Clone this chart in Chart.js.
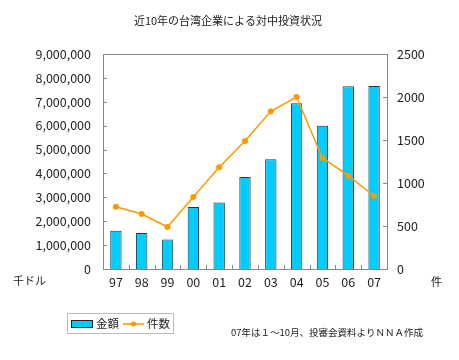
<!DOCTYPE html>
<html>
<head>
<meta charset="utf-8">
<script src="https://cdn.jsdelivr.net/npm/chart.js@4"></script>
<style>
  html, body { margin: 0; padding: 0; background: #fff; }
  #wrap { width: 459px; height: 360px; position: relative; }
</style>
</head>
<body>
<div id="wrap"><canvas id="grafica" width="459" height="360"></canvas></div>
<script>
// datos
var years = ['97', '98', '99', '00', '01', '02', '03', '04', '05', '06', '07'];
var amounts = [1600000, 1510000, 1240000, 2600000, 2780000, 3850000, 4590000, 6940000, 6000000, 7650000, 7660000];
var counts = [724, 640, 488, 837, 1182, 1488, 1833, 2000, 1291, 1085, 849];
var leftTicks = [0, 1000000, 2000000, 3000000, 4000000, 5000000, 6000000, 7000000, 8000000, 9000000];
var rightTicks = [0, 500, 1000, 1500, 2000, 2500];

var FONT = '"Noto Sans CJK JP", "Noto Sans", sans-serif';

// titulo, leyenda, notas y marco
var extras = {
    id: 'extras',
    afterDraw: function (chart) {
        var c = chart.ctx;
        var a = chart.chartArea;
        c.save();

        // marco del area
        c.strokeStyle = '#888';
        c.lineWidth = 1;
        c.strokeRect(Math.round(a.left) + 0.5, Math.round(a.top) + 0.5, Math.round(a.right - a.left), Math.round(a.bottom - a.top));

        // marcas hacia adentro
        var yl = chart.scales.y, yr = chart.scales.y1, x = chart.scales.x;
        c.beginPath();
        leftTicks.forEach(function (v) {
            var p = Math.round(yl.getPixelForValue(v)) + 0.5;
            c.moveTo(a.left, p); c.lineTo(a.left + 4, p);
        });
        rightTicks.forEach(function (v) {
            var p = Math.round(yr.getPixelForValue(v)) + 0.5;
            c.moveTo(a.right, p); c.lineTo(a.right - 4, p);
        });
        for (var i = 1; i < years.length; i++) {
            var px = Math.round((x.getPixelForValue(i - 1) + x.getPixelForValue(i)) / 2) + 0.5;
            c.moveTo(px, a.bottom); c.lineTo(px, a.bottom - 4);
        }
        c.stroke();

        c.fillStyle = '#222';
        c.textBaseline = 'middle';

        c.font = '11px ' + FONT;
        c.textAlign = 'center';
        c.fillText('近10年の台湾企業による対中投資状況', 228, 21);

        c.textAlign = 'left';
        c.fillText('千ドル', 13, 281);
        c.fillText('件', 431, 282);

        // leyenda
        c.strokeStyle = '#bbb';
        c.strokeRect(67.5, 313.5, 106, 20);
        c.fillStyle = '#00CCFF';
        c.fillRect(71, 320, 21, 7);
        c.strokeStyle = '#222';
        c.strokeRect(71.5, 320.5, 21, 7);
        c.strokeStyle = '#FF9900';
        c.lineWidth = 1.5;
        c.beginPath(); c.moveTo(123, 324); c.lineTo(144, 324); c.stroke();
        c.fillStyle = '#FF9900';
        c.beginPath(); c.arc(133.5, 324, 2.5, 0, Math.PI * 2); c.fill();
        c.fillStyle = '#222';
        c.font = '11.5px ' + FONT;
        c.fillText('金額', 96, 324);
        c.fillText('件数', 147, 324);

        c.font = '9.5px ' + FONT;
        c.fillText('07年は１～10月、投審会資料よりＮＮＡ作成', 231, 332);

        c.restore();
    }
};

var ctx = document.getElementById('grafica').getContext('2d');
var chart = new Chart(ctx, {
    data: {
        labels: years,
        datasets: [{
            type: 'line',
            label: '件数',
            data: counts,
            yAxisID: 'y1',
            borderColor: '#FF9900',
            backgroundColor: '#FF9900',
            borderWidth: 1.5,
            pointRadius: 3,
            pointBorderWidth: 0,
            tension: 0,
            order: 0
        }, {
            type: 'bar',
            label: '金額',
            data: amounts,
            yAxisID: 'y',
            backgroundColor: '#00CCFF',
            borderColor: '#333',
            borderWidth: 1,
            barPercentage: 0.44,
            categoryPercentage: 1,
            order: 1
        }]
    },
    options: {
        responsive: false,
        animation: false,
        layout: { padding: { top: 54, right: 22, bottom: 61, left: 0 } },
        plugins: {
            legend: { display: false },
            title: { display: false },
            tooltip: { enabled: false }
        },
        scales: {
            x: {
                grid: { display: false, drawTicks: false },
                border: { display: false },
                ticks: { color: '#222', font: { family: FONT, size: 12.5 }, padding: 6, maxRotation: 0 },
                afterFit: function (s) { s.height = 30; }
            },
            y: {
                position: 'left',
                min: 0, max: 9000000,
                afterBuildTicks: function (s) { s.ticks = leftTicks.map(function (v) { return { value: v }; }); },
                grid: { display: false, drawTicks: false },
                border: { display: false },
                ticks: {
                    color: '#222', font: { family: FONT, size: 12.5 }, padding: 12,
                    callback: function (v) { return v.toLocaleString('en-US'); }
                },
                afterFit: function (s) { s.width = 103; }
            },
            y1: {
                position: 'right',
                min: 0, max: 2500,
                afterBuildTicks: function (s) { s.ticks = rightTicks.map(function (v) { return { value: v }; }); },
                grid: { display: false, drawTicks: false },
                border: { display: false },
                ticks: {
                    color: '#222', font: { family: FONT, size: 12.5 }, padding: 10,
                    callback: function (v) { return String(v); }
                },
                afterFit: function (s) { s.width = 50; }
            }
        }
    },
    plugins: [extras]
});
</script>
</body>
</html>
